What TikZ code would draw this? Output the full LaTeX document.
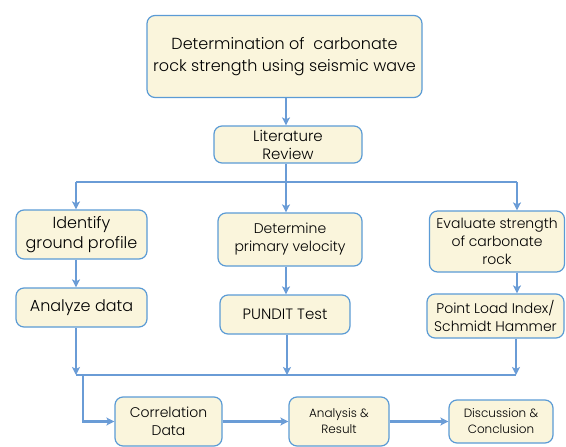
\documentclass[tikz,border=0pt]{standalone}
\usepackage{fontspec}
\setmainfont{Poppins}[UprightFont=* Light]
\usetikzlibrary{arrows.meta}
\definecolor{boxfill}{HTML}{FAF5DC}
\definecolor{boxline}{HTML}{5B9BD5}
\definecolor{linkblue}{HTML}{6A9CD6}
\tikzset{
    x=1pt, y=-1pt, % one unit is one pixel of the layout, y runs down
    }

\begin{document}
\begin{tikzpicture}[
flowbox/.style={rectangle, rounded corners=8pt, draw=boxline, fill=boxfill, line width=1.2pt, align=center, inner sep=0pt},
link/.style={draw=linkblue, line width=2.2pt},
arrowlink/.style={link, -{Stealth[length=8pt, width=8pt, inset=2pt]}},
]
\useasboundingbox (0,0) rectangle (566,447);
% boxes
\node[flowbox, minimum width=275pt, minimum height=82pt, font=\fontsize{16}{22}\selectfont] (title) at (284.5,56.5) {Determination of\ \ carbonate\\rock strength using seismic wave};
\node[flowbox, minimum width=148pt, minimum height=37pt, font=\fontsize{15}{18}\selectfont] (lit) at (288,144.5) {Literature\\Review};
\node[flowbox, minimum width=131pt, minimum height=49pt, font=\fontsize{16}{20}\selectfont] (ident) at (81.5,234.5) {Identify\\ground profile};
\node[flowbox, minimum width=144pt, minimum height=53pt, font=\fontsize{14}{18}\selectfont] (determ) at (290,239.5) {Determine\\primary velocity};
\node[flowbox, minimum width=135pt, minimum height=61pt, font=\fontsize{14}{18}\selectfont] (evalu) at (497,241.5) {Evaluate strength\\of carbonate\\rock};
\node[flowbox, minimum width=131pt, minimum height=39pt, font=\fontsize{16}{20}\selectfont] (analyze) at (81.5,307.5) {Analyze data};
\node[flowbox, minimum width=130pt, minimum height=39pt, font=\fontsize{15}{18}\selectfont] (pundit) at (285,314.5) {PUNDIT Test};
\node[flowbox, minimum width=137pt, minimum height=44pt, font=\fontsize{14}{18}\selectfont] (point) at (495.5,316) {Point Load Index/\\Schmidt Hammer};
\node[flowbox, minimum width=107pt, minimum height=49pt, font=\fontsize{14}{18}\selectfont] (corr) at (168.5,421.5) {Correlation\\Data};
\node[flowbox, minimum width=100pt, minimum height=49pt, font=\fontsize{12}{16}\selectfont] (anres) at (339,421.5) {Analysis \&\\Result};
\node[flowbox, minimum width=104pt, minimum height=43pt, font=\fontsize{12}{16}\selectfont] (disc) at (501,421.5) {Discussion \&\\Conclusion};

% split and merge points
\coordinate (splitL) at (76,182);
\coordinate (splitM) at (286,182);
\coordinate (splitR) at (517,182);
\coordinate (mergeL) at (76,375);
\coordinate (mergeM) at (287,375);
\coordinate (mergeR) at (516,375);
\coordinate (branch) at (83,375);

\draw[arrowlink] (splitM |- title.south) -- (splitM |- lit.north);
\draw[link] (splitM |- lit.south) -- (splitM);
\draw[link] (splitL) -- (splitR);
\draw[arrowlink] (splitL) -- (splitL |- ident.north);
\draw[arrowlink] (splitM) -- (splitM |- determ.north);
\draw[arrowlink] (splitR) -- (splitR |- evalu.north);

\draw[arrowlink] (splitL |- ident.south) -- (splitL |- analyze.north);
\draw[arrowlink] (splitM |- determ.south) -- (splitM |- pundit.north);
\draw[arrowlink] (splitR |- evalu.south) -- (splitR |- point.north);

\draw[arrowlink] (mergeL |- analyze.south) -- (mergeL);
\draw[arrowlink] (mergeM |- pundit.south) -- (mergeM);
\draw[arrowlink] (mergeR |- point.south) -- (mergeR);
\draw[link] (mergeL) -- (mergeR);

\draw[arrowlink] (branch) |- (corr.west);
\draw[arrowlink] (corr.east) -- (anres.west);
\draw[arrowlink] (anres.east) -- (disc.west);
\end{tikzpicture}
\end{document}
